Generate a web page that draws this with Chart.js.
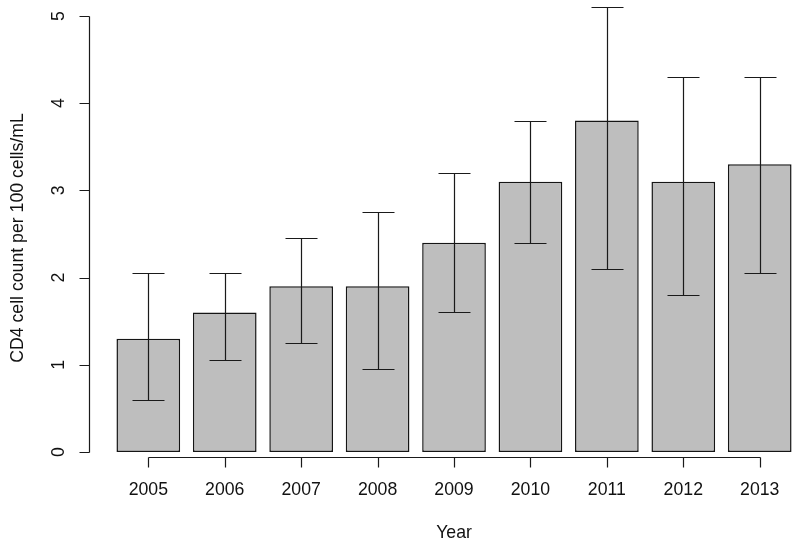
<!DOCTYPE html>
<html>
<head>
<meta charset="utf-8">
<script src="https://cdn.jsdelivr.net/npm/chart.js@4/dist/chart.umd.min.js"></script>
<style>
  html, body { margin: 0; padding: 0; background: #ffffff; overflow: hidden; }
  #wrap { width: 800px; height: 547px; }
</style>
</head>
<body>
<div id="wrap"><canvas id="c" width="800" height="547"></canvas></div>
<script>
// ---- data ----
const years = ["2005", "2006", "2007", "2008", "2009", "2010", "2011", "2012", "2013"];
const means = [1.3, 1.6, 1.9, 1.9, 2.4, 3.1, 3.8, 3.1, 3.3];
const lower = [0.6, 1.05, 1.25, 0.95, 1.6, 2.4, 2.1, 1.8, 2.05];
const upper = [2.05, 2.05, 2.45, 2.75, 3.2, 3.8, 5.1, 4.3, 4.3];
const yTicks = [0, 1, 2, 3, 4, 5];
const yTitle = "CD4 cell count per 100 cells/mL";
const xTitle = "Year";

const FONT = '17.7px "Liberation Sans", Arial, sans-serif';
const INK = '#1a1a1a';

const rAxesPlugin = {
  id: 'rAxes',
  afterDatasetsDraw(chart) {
    const ctx = chart.ctx;
    const xs = chart.scales.x, ys = chart.scales.y;
    ctx.save();
    ctx.strokeStyle = INK;
    ctx.lineWidth = 1.2;
    // error bars
    const capHalf = 16;
    for (let i = 0; i < years.length; i++) {
      const px = Math.round(xs.getPixelForValue(i)) + 0.5;
      const yl = Math.round(ys.getPixelForValue(lower[i])) + 0.5;
      const yu = Math.round(ys.getPixelForValue(upper[i])) + 0.5;
      ctx.beginPath();
      ctx.moveTo(px, yl); ctx.lineTo(px, yu);
      ctx.moveTo(px - capHalf, yl); ctx.lineTo(px + capHalf, yl);
      ctx.moveTo(px - capHalf, yu); ctx.lineTo(px + capHalf, yu);
      ctx.stroke();
    }
    // y axis
    const ax = chart.chartArea.left + 0.5;
    const y0 = Math.round(ys.getPixelForValue(yTicks[0])) + 0.5;
    const y1 = Math.round(ys.getPixelForValue(yTicks[yTicks.length - 1])) + 0.5;
    ctx.beginPath();
    ctx.moveTo(ax, y0); ctx.lineTo(ax, y1);
    yTicks.forEach(t => {
      const py = Math.round(ys.getPixelForValue(t)) + 0.5;
      ctx.moveTo(ax, py); ctx.lineTo(ax - 10, py);
    });
    ctx.stroke();
    ctx.fillStyle = '#111111';
    ctx.font = FONT;
    ctx.textAlign = 'center';
    ctx.textBaseline = 'middle';
    yTicks.forEach(t => {
      const py = ys.getPixelForValue(t);
      ctx.save();
      ctx.translate(59, py);
      ctx.rotate(-Math.PI / 2);
      ctx.fillText(String(t), 0, 0);
      ctx.restore();
    });
    // x axis
    const by = chart.chartArea.bottom + 0.5;
    const xa = Math.round(xs.getPixelForValue(0)) + 0.5;
    const xb = Math.round(xs.getPixelForValue(years.length - 1)) + 0.5;
    ctx.beginPath();
    ctx.moveTo(xa, by); ctx.lineTo(xb, by);
    years.forEach((_, i) => {
      const px = Math.round(xs.getPixelForValue(i)) + 0.5;
      ctx.moveTo(px, by); ctx.lineTo(px, by + 10);
    });
    ctx.stroke();
    years.forEach((lab, i) => {
      ctx.fillText(lab, xs.getPixelForValue(i), 490);
    });
    // titles
    ctx.fillText(xTitle, 454, 533);
    ctx.save();
    ctx.translate(18, 238);
    ctx.rotate(-Math.PI / 2);
    ctx.fillText(yTitle, 0, 0);
    ctx.restore();
    ctx.restore();
  }
};

new Chart(document.getElementById('c'), {
  type: 'bar',
  data: {
    datasets: [{
      label: 'CD4',
      data: means.map((v, i) => ({ x: i, y: v })),
      backgroundColor: '#bebebe',
      borderColor: '#151515',
      borderWidth: 1.5,
      borderSkipped: false,
      barPercentage: 0.8333,
      categoryPercentage: 1.0
    }]
  },
  options: {
    responsive: false,
    devicePixelRatio: 1,
    animation: false,
    layout: { padding: { left: 89, right: 0, top: 0, bottom: 90 } },
    plugins: { legend: { display: false }, tooltip: { enabled: false } },
    scales: {
      x: { type: 'linear', display: false, min: -0.776, max: 8.527, offset: false },
      y: { type: 'linear', display: false, min: -0.0573, max: 5.183 }
    }
  },
  plugins: [rAxesPlugin]
});
</script>
</body>
</html>
